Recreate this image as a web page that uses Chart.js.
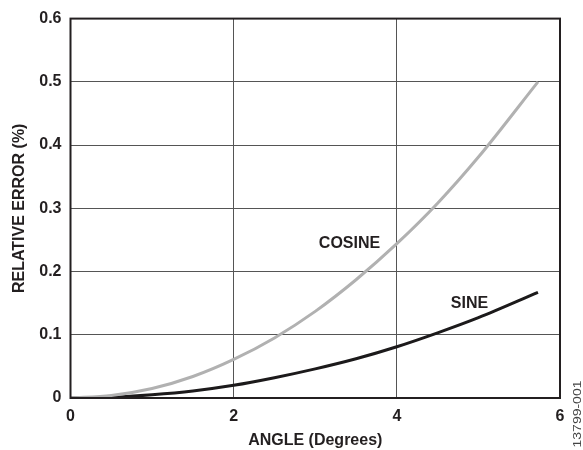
<!DOCTYPE html>
<html>
<head>
<meta charset="utf-8">
<script src="https://cdn.jsdelivr.net/npm/chart.js@4.4.1/dist/chart.umd.min.js"></script>
<style>
  body { margin: 0; background: #fff; }
  #wrap { width: 583px; height: 450px; }
</style>
</head>
<body>
<div id="wrap"><canvas id="myChart" width="583" height="450"></canvas></div>
<script>
'use strict';

// values
const angles = [0, 0.5, 1, 1.5, 2, 2.5, 3, 3.5, 4, 4.5, 5, 5.73];
const cosineError = [0, 0.004, 0.015, 0.034, 0.061, 0.095, 0.137, 0.187, 0.244, 0.308, 0.381, 0.5];
const sineError = [0, 0.001, 0.005, 0.011, 0.020, 0.032, 0.046, 0.062, 0.081, 0.103, 0.127, 0.167];
const xTicks = [0, 2, 4, 6];
const yTicks = [0, 0.1, 0.2, 0.3, 0.4, 0.5, 0.6];

const FONT = '"Liberation Sans", Arial, sans-serif';

function toPoints(ys) {
  return angles.map((a, i) => ({ x: a, y: ys[i] }));
}

// frame, curve labels and figure number
const extras = {
  id: 'extras',
  afterDraw(chart) {
    const { ctx, chartArea: a, scales: { x, y } } = chart;
    ctx.save();
    ctx.strokeStyle = '#231f20';
    ctx.lineWidth = 2;
    ctx.strokeRect(a.left, a.top, a.right - a.left, a.bottom - a.top);

    ctx.fillStyle = '#231f20';
    ctx.font = 'bold 16px ' + FONT;
    ctx.textAlign = 'center';
    ctx.textBaseline = 'middle';
    ctx.fillText('COSINE', x.getPixelForValue(3.42), y.getPixelForValue(0.244));
    ctx.fillText('SINE', x.getPixelForValue(4.89), y.getPixelForValue(0.150));

    ctx.font = '10px ' + FONT;
    ctx.fillStyle = '#444';
    ctx.translate(578, 414);
    ctx.rotate(-Math.PI / 2);
    ctx.scale(1.4, 1);
    ctx.fillText('13799-001', 0, 0);
    ctx.restore();
  }
};

Chart.defaults.font.family = FONT;
Chart.defaults.font.weight = 'bold';
Chart.defaults.font.size = 16;
Chart.defaults.color = '#231f20';

new Chart(document.getElementById('myChart'), {
  type: 'line',
  data: {
    datasets: [{
      label: 'COSINE',
      data: toPoints(cosineError),
      borderColor: '#b1b1b1',
      borderWidth: 3,
      pointRadius: 0,
      cubicInterpolationMode: 'monotone'
    }, {
      label: 'SINE',
      data: toPoints(sineError),
      borderColor: '#1c1a1b',
      borderWidth: 3,
      pointRadius: 0,
      cubicInterpolationMode: 'monotone'
    }]
  },
  options: {
    responsive: false,
    animation: false,
    layout: { padding: { left: 0, right: 23, top: 18, bottom: 0 } },
    plugins: {
      legend: { display: false },
      tooltip: { enabled: false }
    },
    scales: {
      x: {
        type: 'linear',
        min: 0,
        max: 6,
        afterBuildTicks(scale) { scale.ticks = xTicks.map(v => ({ value: v })); },
        afterFit(scale) { scale.height = 52; },
        grid: { color: '#555', lineWidth: 1, drawTicks: false },
        border: { display: false },
        ticks: { padding: 9, callback: v => String(v) },
        title: { display: true, text: 'ANGLE (Degrees)', padding: { top: 0, bottom: 0 } }
      },
      y: {
        type: 'linear',
        min: 0,
        max: 0.6,
        afterBuildTicks(scale) { scale.ticks = yTicks.map(v => ({ value: v })); },
        afterFit(scale) { scale.width = 70.5; },
        grid: { color: '#555', lineWidth: 1, drawTicks: false },
        border: { display: false },
        ticks: { padding: 9, callback: v => (v === 0 ? '0' : v.toFixed(1)) },
        title: { display: true, text: 'RELATIVE ERROR (%)', padding: { top: 10, bottom: 0 } }
      }
    }
  },
  plugins: [extras]
});
</script>
</body>
</html>
